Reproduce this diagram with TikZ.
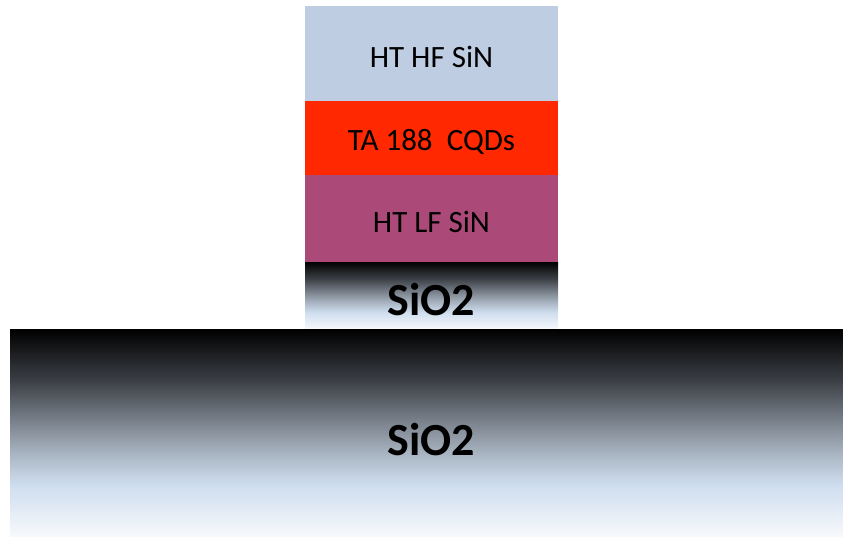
\documentclass[tikz,border=0pt]{standalone}
\usepackage{fontspec}
\setmainfont{Carlito}
\definecolor{hfsin}{HTML}{BFCDE3}
\definecolor{cqd}{HTML}{FF2800}
\definecolor{lfsin}{HTML}{AB4A78}
\definecolor{oxa}{HTML}{F7F9FC}
\definecolor{oxb}{HTML}{CEDDEE}
\definecolor{oxc}{HTML}{A8B4C1}
\definecolor{oxd}{HTML}{7B838D}
\definecolor{oxe}{HTML}{3C4046}
\pgfdeclareverticalshading{oxide}{100bp}{color(0bp)=(oxa); color(25bp)=(oxa); color(37.5bp)=(oxb); color(45bp)=(oxc); color(52.5bp)=(oxd); color(62.5bp)=(oxe); color(75bp)=(black); color(100bp)=(black)}
\begin{document}
\begin{tikzpicture}[x=1pt,y=-1pt,
  layer/.style={rectangle, inner sep=0pt, outer sep=0pt, draw=none, anchor=north west},
  oxidelayer/.style={layer, shading=oxide},
  lbl/.style={anchor=base, inner sep=0pt, font=\fontsize{31}{31}\selectfont},
  oxlbl/.style={anchor=base, inner sep=0pt, font=\fontsize{46}{46}\selectfont\bfseries}]
\useasboundingbox (0,0) rectangle (843,536);
\node[layer, fill=hfsin, minimum width=253pt, minimum height=95pt] (hf) at (305,6) {};
\node[layer, fill=cqd, minimum width=253pt, minimum height=74pt] (cq) at (305,101) {};
\node[layer, fill=lfsin, minimum width=253pt, minimum height=87pt] (lf) at (305,175) {};
\node[oxidelayer, minimum width=253pt, minimum height=67pt] (ox1) at (305,262) {};
\node[oxidelayer, minimum width=833pt, minimum height=207pt] (ox2) at (10,329) {};
\node[lbl] (thf) at (431.5,67) {HT HF SiN};
\node[lbl] (tcq) at (431.5,150) {TA 188\ \ CQDs};
\node[lbl] (tlf) at (431.5,232) {HT LF SiN};
\node[oxlbl] (tox1) at (431.5,315) {SiO2};
\node[oxlbl] (tox2) at (431.5,455) {SiO2};
\end{tikzpicture}
\end{document}
